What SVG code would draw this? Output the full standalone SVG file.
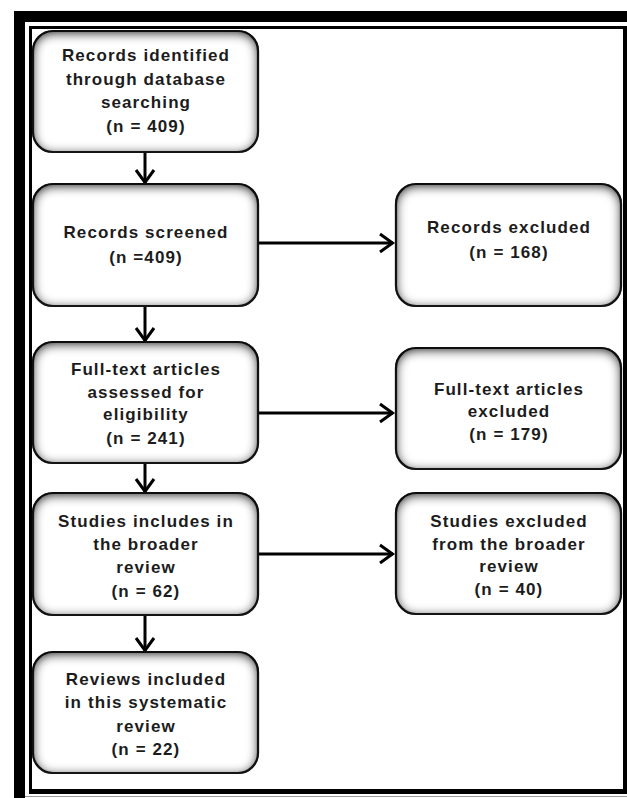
<svg xmlns="http://www.w3.org/2000/svg" width="627" height="798" viewBox="0 0 627 798">
<style>
.box{fill:#fff;stroke:#1e1e1e;stroke-width:2.2}
.t{font-family:"Liberation Sans",Arial,sans-serif;font-weight:bold;font-size:17px;letter-spacing:1.1px;fill:#1c1c1c;text-anchor:middle}
.c{fill:none;stroke:#000;stroke-width:3}
</style>
<defs>
<filter id="bevel" x="-20%" y="-30%" width="140%" height="160%" color-interpolation-filters="sRGB">
<feComponentTransfer in="SourceAlpha" result="inv"><feFuncA type="table" tableValues="1 0"/></feComponentTransfer>
<feGaussianBlur in="inv" stdDeviation="6" result="blur"/>
<feOffset in="blur" dy="2" result="off"/>
<feFlood flood-color="#000" flood-opacity="1"/>
<feComposite in2="off" operator="in" result="sh"/>
<feComposite in="sh" in2="SourceAlpha" operator="in" result="ish"/>
<feMerge><feMergeNode in="SourceGraphic"/><feMergeNode in="ish"/></feMerge>
</filter>
<marker id="ah" markerUnits="userSpaceOnUse" markerWidth="20" markerHeight="22" viewBox="0 0 20 22" refX="16" refY="11" orient="auto">
<path d="M3,2 L15.5,11 L3,20" fill="none" stroke="#000" stroke-width="3"/>
</marker>
</defs>
<rect width="627" height="798" fill="#fff"/>
<g id="frame">
<rect x="14" y="11" width="11" height="787" fill="#000"/>
<rect x="14" y="11" width="613" height="11" fill="#000"/>
<line x1="30.5" y1="26" x2="30.5" y2="794" stroke="#000" stroke-width="3"/>
<line x1="29" y1="27.5" x2="627" y2="27.5" stroke="#000" stroke-width="3"/>
<line x1="625" y1="26" x2="625" y2="794" stroke="#000" stroke-width="4"/>
<line x1="29" y1="791.5" x2="627" y2="791.5" stroke="#000" stroke-width="5"/>
<line x1="25" y1="796.5" x2="627" y2="796.5" stroke="#999" stroke-width="1"/>
</g>
<g id="connectors">
<line class="c" x1="145" y1="153" x2="145" y2="183" marker-end="url(#ah)"/>
<line class="c" x1="145" y1="307" x2="145" y2="341" marker-end="url(#ah)"/>
<line class="c" x1="145" y1="464" x2="145" y2="492" marker-end="url(#ah)"/>
<line class="c" x1="145" y1="616" x2="145" y2="651" marker-end="url(#ah)"/>
<line class="c" x1="258" y1="243" x2="393" y2="243" marker-end="url(#ah)"/>
<line class="c" x1="258" y1="413" x2="393" y2="413" marker-end="url(#ah)"/>
<line class="c" x1="258" y1="554" x2="393" y2="554" marker-end="url(#ah)"/>
</g>
<g id="identified">
<rect class="box" filter="url(#bevel)" x="33" y="31" width="225" height="121" rx="20"/>
<text class="t" x="146" y="61">Records identified</text>
<text class="t" x="146" y="85">through database</text>
<text class="t" x="146" y="108">searching</text>
<text class="t" x="146" y="132">(n = 409)</text>
</g>
<g id="screened">
<rect class="box" filter="url(#bevel)" x="33" y="184" width="225" height="122" rx="20"/>
<text class="t" x="146" y="238">Records screened</text>
<text class="t" x="146" y="263">(n =409)</text>
</g>
<g id="excluded1">
<rect class="box" filter="url(#bevel)" x="396" y="184" width="225" height="122" rx="20"/>
<text class="t" x="509" y="233">Records excluded</text>
<text class="t" x="509" y="258">(n = 168)</text>
</g>
<g id="fulltext">
<rect class="box" filter="url(#bevel)" x="33" y="342" width="225" height="121" rx="20"/>
<text class="t" x="146" y="375">Full-text articles</text>
<text class="t" x="146" y="398">assessed for</text>
<text class="t" x="146" y="420">eligibility</text>
<text class="t" x="146" y="444">(n = 241)</text>
</g>
<g id="excluded2">
<rect class="box" filter="url(#bevel)" x="396" y="348" width="225" height="121" rx="20"/>
<text class="t" x="509" y="395">Full-text articles</text>
<text class="t" x="509" y="417">excluded</text>
<text class="t" x="509" y="440">(n = 179)</text>
</g>
<g id="broader">
<rect class="box" filter="url(#bevel)" x="33" y="493" width="225" height="122" rx="20"/>
<text class="t" x="146" y="527">Studies includes in</text>
<text class="t" x="146" y="550">the broader</text>
<text class="t" x="146" y="573">review</text>
<text class="t" x="146" y="597">(n = 62)</text>
</g>
<g id="excluded3">
<rect class="box" filter="url(#bevel)" x="396" y="493" width="225" height="121" rx="20"/>
<text class="t" x="509" y="527">Studies excluded</text>
<text class="t" x="509" y="550">from the broader</text>
<text class="t" x="509" y="572">review</text>
<text class="t" x="509" y="595">(n = 40)</text>
</g>
<g id="included">
<rect class="box" filter="url(#bevel)" x="33" y="652" width="225" height="121" rx="20"/>
<text class="t" x="146" y="685">Reviews included</text>
<text class="t" x="146" y="708">in this systematic</text>
<text class="t" x="146" y="732">review</text>
<text class="t" x="146" y="755">(n = 22)</text>
</g>
</svg>
